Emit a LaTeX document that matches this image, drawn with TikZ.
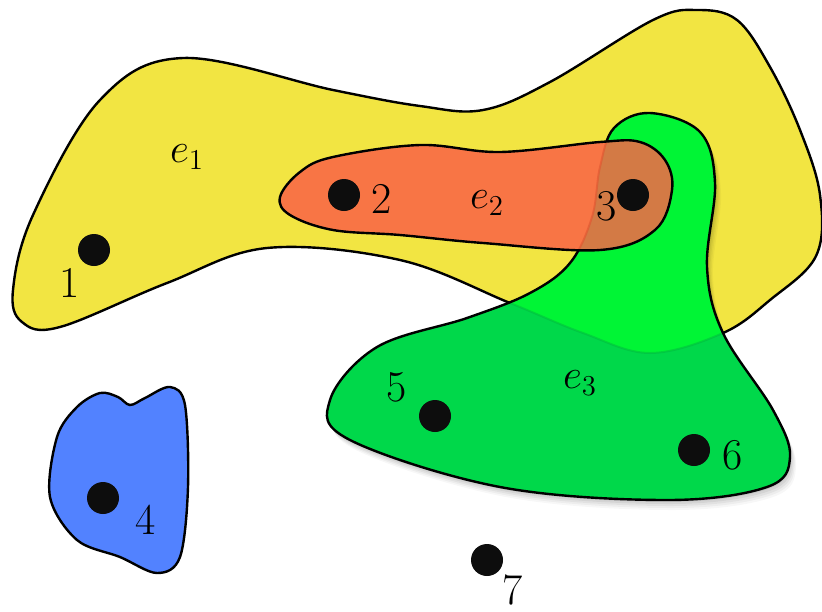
\documentclass[tikz,border=0pt]{standalone}
\usetikzlibrary{calc}
\definecolor{yel}{HTML}{F2E542}
\definecolor{ora}{HTML}{F87545}
\definecolor{brn}{HTML}{D37A45}
\definecolor{grnd}{HTML}{00D84A}
\definecolor{grnb}{HTML}{00F535}
\definecolor{blu}{HTML}{5282FF}
\newcommand{\yelpath}{plot[smooth cycle, tension=0.6] coordinates {(22,322) (13,290) (33,215) (100,100) (183,58) (333,90) (420,106) (483,110) (550,82) (653,20) (697,10) (737,20) (770,67) (800,130) (820,195) (816,256) (770,300) (723,333) (650,353) (583,333) (510,303) (400,260) (267,248) (167,283) (60,327)}}
\newcommand{\grnpath}{plot[smooth cycle, tension=0.6] coordinates {(650,113) (700,132) (715,183) (707,267) (723,333) (773,410) (790,457) (767,487) (667,500) (500,487) (350,440) (330,400) (377,347) (467,318) (530,293) (570,263) (592,217) (600,167) (614,128)}}
\newcommand{\orapath}{plot[smooth cycle, tension=0.6] coordinates {(280,197) (300,172) (333,157) (420,145) (500,152) (600,142) (640,142) (665,160) (672,190) (655,230) (600,250) (483,243) (400,235) (333,230) (290,215)}}
\newcommand{\blupath}{plot[smooth cycle, tension=0.55] coordinates {(77,407) (100,393) (118,397) (130,405) (145,398) (170,387) (185,405) (188,487) (180,557) (157,573) (120,557) (77,540) (50,497) (57,437)}}
\tikzset{
  edgeline/.style={line width=1.2pt, black},
  dot/.style={circle, fill=black!95, inner sep=0pt, minimum size=16pt},
  lbl/.style={inner sep=0pt, font=\fontsize{22}{26}\selectfont}
}
\begin{document}
\begin{tikzpicture}[x=0.5pt, y=-0.5pt]
\useasboundingbox (0,0) rectangle (822,611);
% e1 yellow
\fill[yel] \yelpath;
\draw[edgeline] \yelpath;
% shadow of e3
\foreach \s/\o in {10/0.03, 8/0.04, 6/0.05, 4/0.06, 2/0.07} {
  \fill[black, opacity=\o, shift={(\s*0.6,\s*1.0)}] \grnpath;
}
% e3 green
\fill[grnd] \grnpath;
\begin{scope}
  \clip \yelpath;
  \fill[grnb] \grnpath;
\end{scope}
\begin{scope}
  \clip \grnpath;
  \draw[line width=1pt, grnd!85!black, opacity=0.5] \yelpath;
\end{scope}
\draw[edgeline] \grnpath;
% e2 orange
\fill[ora] \orapath;
\begin{scope}
  \clip \orapath;
  \fill[brn] \grnpath;
  \draw[line width=1pt, brn!70!red, opacity=0.6] \grnpath;
\end{scope}
\draw[edgeline] \orapath;
% e4 blue
\fill[blu] \blupath;
\draw[edgeline] \blupath;
% vertices
\node[dot] (v1) at (94,250) {};
\node[dot] (v2) at (344,195) {};
\node[dot] (v3) at (633,195) {};
\node[dot] (v4) at (103,498) {};
\node[dot] (v5) at (435,416) {};
\node[dot] (v6) at (694,450) {};
\node[dot] (v7) at (487,560) {};
\node[lbl] (l1) at (70,283) {1};
\node[lbl] (l2) at (382,199) {2};
\node[lbl] (l3) at (607,206) {3};
\node[lbl] (l4) at (146,520) {4};
\node[lbl] (l5) at (397,387) {5};
\node[lbl] (l6) at (733,455) {6};
\node[lbl] (l7) at (513,590) {7};
\node[lbl] (le1) at (187,157) {$e_1$};
\node[lbl] (le2) at (487,203) {$e_2$};
\node[lbl] (le3) at (580,383) {$e_3$};
\end{tikzpicture}
\end{document}
